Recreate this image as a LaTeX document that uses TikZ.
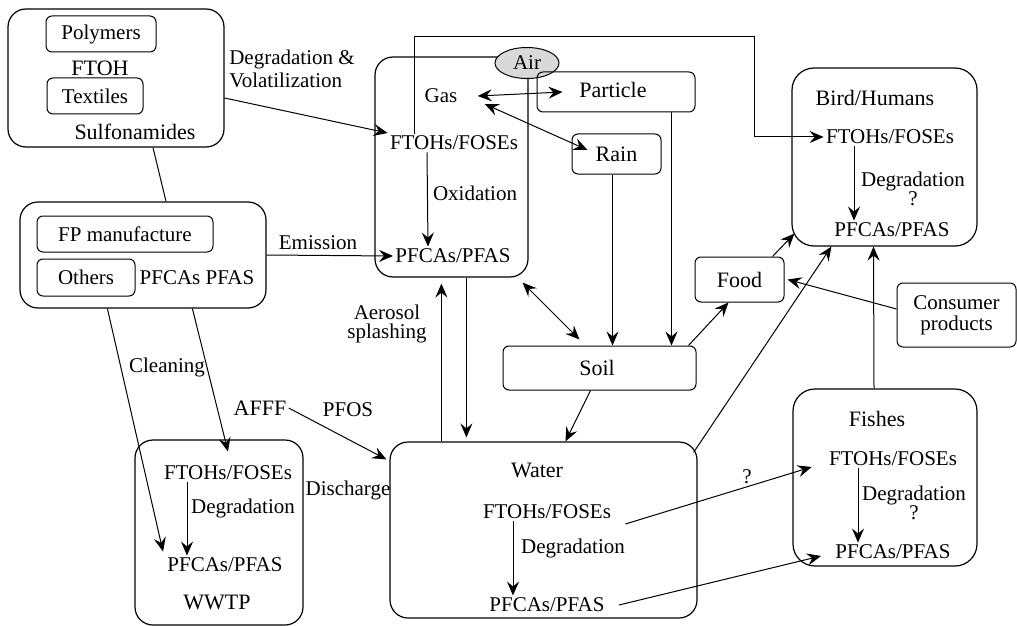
\documentclass[tikz,border=0pt]{standalone}
\usepackage{fontspec}
\setmainfont{Liberation Serif}
\usetikzlibrary{arrows.meta,positioning,fit,shapes.geometric}
\tikzset{
  zone/.style  ={draw, rounded corners=9pt, inner sep=0pt, line width=0.6pt},
  sbox/.style  ={draw, rounded corners=3pt, inner sep=0pt, line width=0.5pt},
  lbl/.style   ={font=\fontsize{10.5}{11.5}\selectfont, inner sep=1pt, align=center},
  blbl/.style  ={font=\fontsize{11}{12}\selectfont, inner sep=1pt, align=center},
  arr/.style   ={-{Stealth[length=7pt,width=6pt,inset=2.5pt]}, line width=0.5pt},
  darr/.style  ={{Stealth[length=7pt,width=6pt,inset=2.5pt]}-{Stealth[length=7pt,width=6pt,inset=2.5pt]},
                 line width=0.5pt},
  ln/.style    ={line width=0.5pt},
}

\begin{document}
\begin{tikzpicture}[x=0.5pt, y=-0.5pt]
  \useasboundingbox (0,0) rectangle (1017,626);

  % sources
  \node[zone, fit={(8,9) (224,147)}] (src) {};
  \node[sbox, fit={(46,16) (156,52)}, label={[lbl]center:Polymers}] (poly) {};
  \node[blbl] (ftoh) at (100,68) {FTOH};
  \node[sbox, fit={(47,78) (143,114)}, label={[lbl]center:Textiles}] (text) {};
  \node[blbl] (sulf) at (135,132) {Sulfonamides};

  \node[zone, fit={(20,202) (266,308)}] (fp) {};
  \node[sbox, fit={(37,216) (213,252)}, label={[lbl]center:FP manufacture}] (fpm) {};
  \node[sbox, fit={(37,259) (135,296)}, label={[lbl]center:Others}] (oth) {};
  \node[lbl] (pfcs) at (197,278) {PFCAs PFAS};

  % air compartment
  \node[zone, fit={(375,57) (528,277)}] (gasbox) {};
  \node[ellipse, draw, fill=gray!30, line width=0.5pt, inner sep=0pt,
        minimum width=32pt, minimum height=15.5pt, font=\fontsize{10.5}{11}\selectfont]
        (air) at (527,63) {Air};
  \node[lbl] (gas) at (441,96) {Gas};
  \node[lbl] (gftoh) at (454,143) {FTOHs/FOSEs};
  \node[lbl] (gox) at (475,193) {Oxidation};
  \node[lbl] (gpfca) at (453,256) {PFCAs/PFAS};
  \node[sbox, fit={(537,72) (695,112)}] (part) {};
  \node[blbl] (ptxt) at (613,90) {Particle};
  \node[sbox, fit={(572,134) (661,174)}, label={[blbl]center:Rain}] (rain) {};

  % soil, food
  \node[sbox, fit={(503,346) (696,390)}] (soil) {};
  \node[blbl] (stxt) at (597,368) {Soil};
  \node[sbox, fit={(695,257) (784,302)}, label={[blbl]center:Food}] (food) {};
  \node[sbox, fit={(897,283) (1016,347)}, label={[lbl]center:Consumer\\[-1pt]products}] (cons) {};

  % bird/humans
  \node[zone, rounded corners=11pt, fit={(792,68) (977,246)}] (bird) {};
  \node[blbl] (bhum) at (875,98) {Bird/Humans};
  \node[lbl] (bftoh) at (890,137) {FTOHs/FOSEs};
  \node[lbl] (bdeg) at (913,189) {Degradation\\[-2pt]?};
  \node[lbl] (bpfca) at (892,230) {PFCAs/PFAS};

  % fishes
  \node[zone, rounded corners=11pt, fit={(793,389) (977,566)}] (fish) {};
  \node[blbl] (fname) at (877,419) {Fishes};
  \node[lbl] (fftoh) at (893,459) {FTOHs/FOSEs};
  \node[lbl] (fdeg) at (914,503) {Degradation\\[-2pt]?};
  \node[lbl] (fpfca) at (893,552) {PFCAs/PFAS};

  % water
  \node[zone, fit={(390,442) (697,618)}] (water) {};
  \node[blbl] (wname) at (537,470) {Water};
  \node[lbl] (wftoh) at (547,512) {FTOHs/FOSEs};
  \node[lbl] (wdeg) at (573,548) {Degradation};
  \node[lbl] (wpfca) at (547,605) {PFCAs/PFAS};

  % WWTP
  \node[zone, fit={(135,440) (303,625)}] (wwtp) {};
  \node[lbl] (tftoh) at (228,473) {FTOHs/FOSEs};
  \node[lbl] (tdeg) at (243,508) {Degradation};
  \node[lbl] (tpfca) at (225,565) {PFCAs/PFAS};
  \node[blbl] (tname) at (217,602) {WWTP};

  % free labels
  \node[lbl, align=left] (degvol) at (292,69) {Degradation \&\\Volatilization};
  \node[lbl] (emis) at (318,243) {Emission};
  \node[lbl] (aero) at (387,324) {Aerosol\\[-2pt]splashing};
  \node[lbl] (clean) at (167,367) {Cleaning};
  \node[blbl] (afff) at (260,408) {AFFF};
  \node[lbl] (pfos) at (348,410) {PFOS};
  \node[lbl] (disc) at (348,490) {Discharge};
  \node[lbl] (qm) at (747,477) {?};
  \coordinate (loop) at (754,37);

  % connectors
  \draw[ln] ([xshift=18.5pt]src.south) -- ([xshift=11.5pt]fp.north);
  \draw[arr] ([yshift=-10pt]src.east) -- ([yshift=5pt]gftoh.west);
  \draw[arr] (fp.east) -- (gpfca.west);
  \draw[arr] ([xshift=-13.5pt]gftoh.south) -- ([xshift=-12.5pt]gpfca.north);
  \draw[arr] ([xshift=-20pt]gftoh.north) |- (loop) |- (bftoh.west);
  \draw[darr] ([xshift=9pt]gas.east) -- ([xshift=13pt]part.west);
  \draw[darr] ([xshift=12.5pt,yshift=-4pt]gas.east) -- ([xshift=8pt,yshift=2pt]rain.west);
  \draw[arr] ([xshift=-2pt]rain.south) -- ([xshift=-2pt]rain.south |- soil.north);
  \draw[arr] ([xshift=-12pt]part.south east) -- ([xshift=-12pt]part.south east |- soil.north);
  \draw[darr] ([xshift=-3pt,yshift=-2.5pt]gasbox.south east) -- ([xshift=38.5pt,yshift=3pt]soil.north west);
  \draw[arr] ([xshift=-4pt]soil.north east) -- ([xshift=17pt]food.south west);
  \draw[arr] ([xshift=-6pt]food.north east) -- ([xshift=1.5pt,yshift=6.5pt]bird.south west);
  \draw[arr] ([yshift=3pt]cons.west) -- ([xshift=1.5pt]food.east);
  \draw[arr] ([xshift=-2pt,yshift=-5.5pt]water.north east) -- ([xshift=20pt]bird.south west);
  \draw[arr] ([xshift=-5.5pt]fish.north) -- ([xshift=-5.5pt]bird.south);
  \draw[arr] ([xshift=-18pt]bftoh.south) -- ([xshift=-19pt]bpfca.north);
  \draw[arr] ([xshift=-17.5pt]fftoh.south) -- ([xshift=-17.5pt]fpfca.north);
  \draw[arr] ([xshift=-4.5pt]soil.south) -- ([xshift=11pt]water.north);
  \draw[arr] ([xshift=26pt]water.north west) -- ([xshift=26pt,yshift=-3pt]water.north west |- gasbox.south);
  \draw[arr] ([xshift=38.5pt]water.north west |- gasbox.south) -- ([xshift=38.5pt,yshift=2pt]water.north west);
  \draw[arr] ([xshift=-17pt]wftoh.south) -- ([xshift=-17pt]wpfca.north);
  \draw[arr] ([xshift=-20.5pt]tftoh.south) -- ([xshift=-19pt]tpfca.north);
  \draw[arr] ([xshift=44pt]fp.south west) -- ([xshift=-1pt,yshift=2pt]tpfca.north west);
  \draw[arr] ([xshift=86.5pt]fp.south west) -- ([yshift=6pt]tftoh.north);
  \draw[arr] (afff.east) -- ([xshift=-1.5pt,yshift=-9pt]water.north west);
  \draw[arr] ([xshift=6pt,yshift=-6pt]wftoh.east) -- ([xshift=-7.5pt,yshift=-4pt]fftoh.west);
  \draw[arr] ([xshift=6pt]wpfca.east) -- ([xshift=-6pt,yshift=-2pt]fpfca.west);
\end{tikzpicture}
\end{document}
